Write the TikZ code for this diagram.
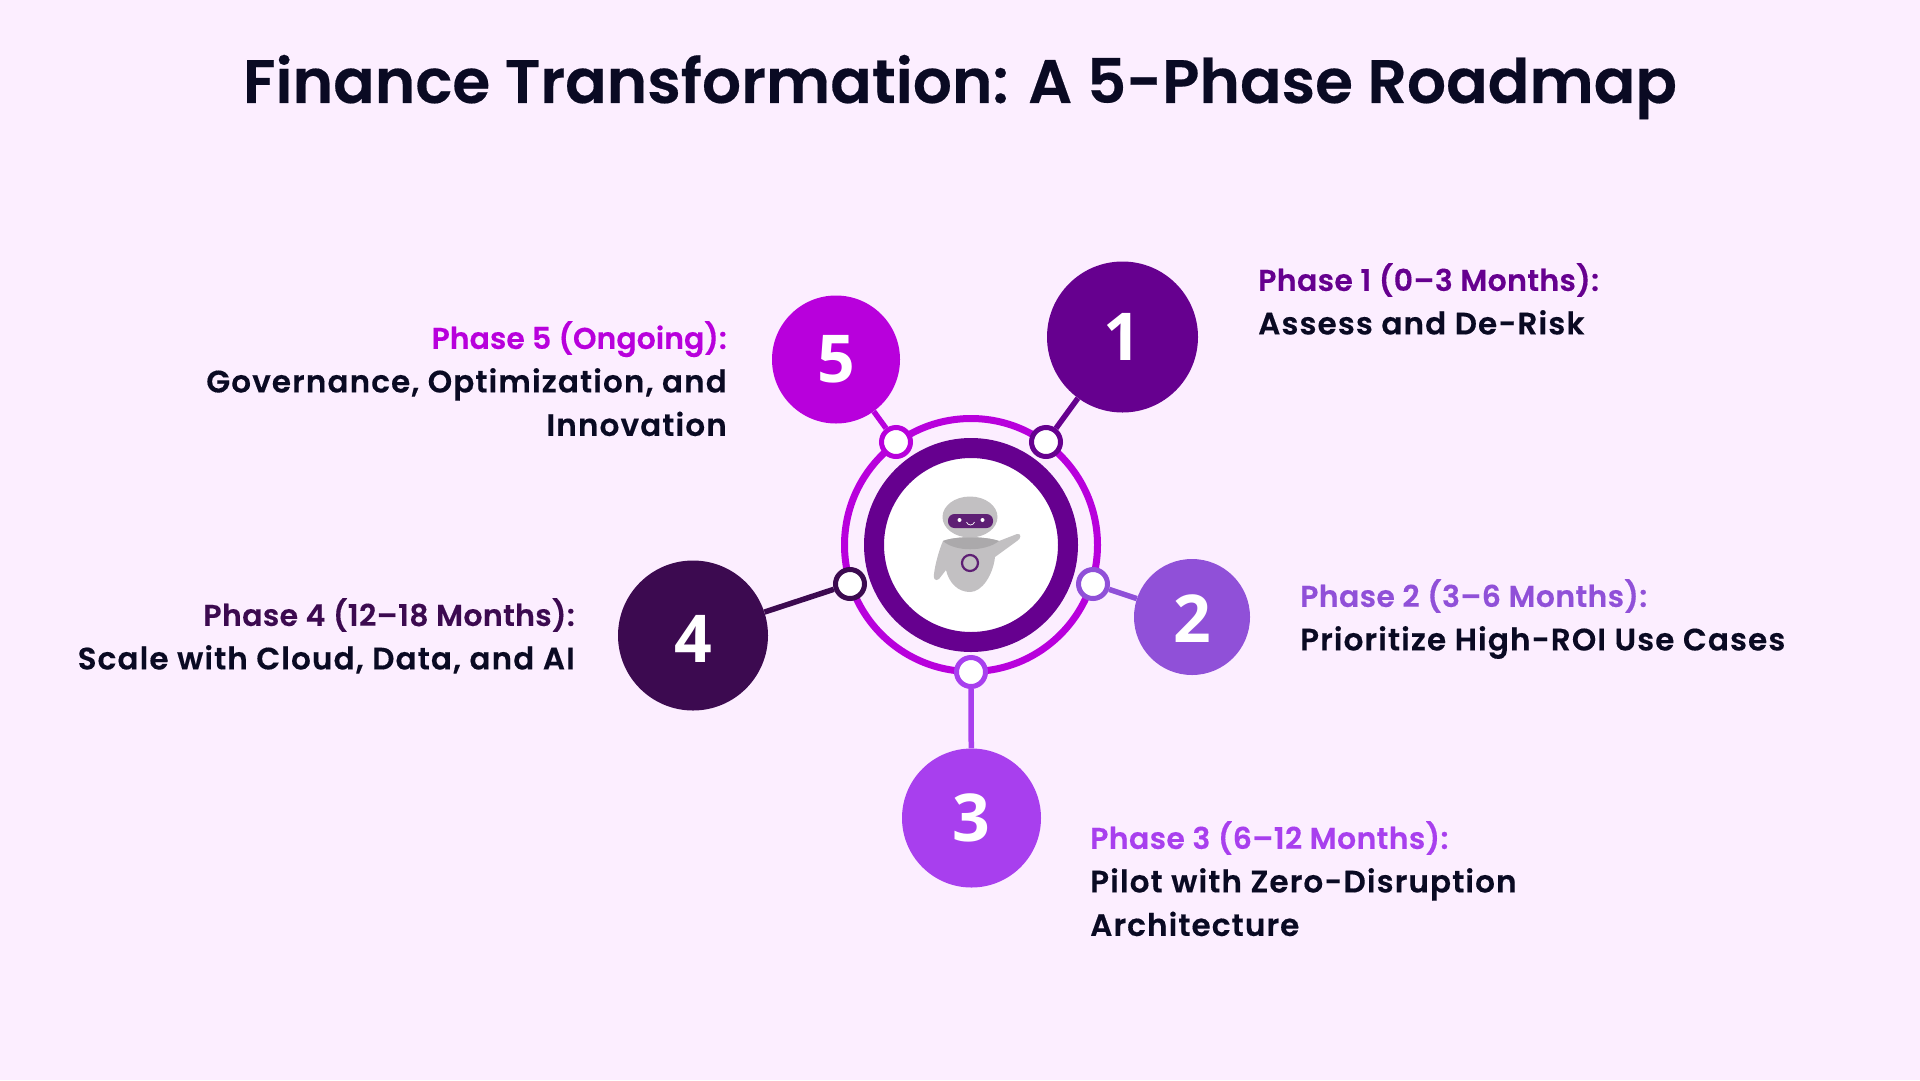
\documentclass[tikz,border=0pt]{standalone}
\usepackage{fontspec}
\setmainfont{Poppins SemiBold}[FakeBold=0.3]
\newfontfamily\numfont{Open Sans}
\newfontfamily\headfont{Poppins SemiBold}[LetterSpace=1.2,FakeBold=0.3]
\newfontfamily\bodyfont{Poppins SemiBold}[LetterSpace=3.7,FakeBold=0.3]
\usepackage{xcolor}
\definecolor{bgpink}{HTML}{FCEEFF}
\definecolor{inkdark}{HTML}{0A0A23}
\definecolor{phaseone}{HTML}{66008F}
\definecolor{phasetwo}{HTML}{9050D8}
\definecolor{phasethree}{HTML}{A83FEE}
\definecolor{phasefour}{HTML}{3C0A50}
\definecolor{phasefive}{HTML}{B800DC}
\definecolor{robotgrey}{HTML}{C2C0C2}
\definecolor{robotshade}{HTML}{ABA9AB}
\definecolor{robotvisor}{HTML}{5E1F74}
\newcommand{\headline}[2]{\textcolor{#1}{\headfont\fontsize{30}{43.5}\selectfont #2}}
\tikzstyle{phase} = [circle, inner sep=0pt, text=white, font=\numfont\bfseries\fontsize{66}{66}\selectfont]
\tikzstyle{port} = [circle, draw, fill=white, line width=5pt, minimum size=29pt, inner sep=0pt]
\tikzstyle{link} = [line width=5.5pt]
\tikzstyle{lefttext} = [inner sep=0pt, align=left, anchor=north west, font=\bodyfont\fontsize{31}{43.5}\selectfont, text=inkdark]
\tikzstyle{righttext} = [inner sep=0pt, align=right, anchor=north east, font=\bodyfont\fontsize{31}{43.5}\selectfont, text=inkdark]

\begin{document}
\begin{tikzpicture}[x=1pt,y=-1pt]
  \useasboundingbox (0,0) rectangle (1920,1080);
  \fill[bgpink] (0,0) rectangle (1920,1080);

  \node (title) [inner sep=0pt, text=inkdark, font=\fontsize{61.4}{61.4}\selectfont] at (960,87) {Finance Transformation: A 5-Phase Roadmap};

  \node (ring) [circle, draw=phasefive, line width=7pt, minimum size=253pt, inner sep=0pt] at (971,545) {};
  \node (hub) [circle, draw=phaseone, fill=white, line width=20pt, minimum size=194pt, inner sep=0pt] at (971,545) {};

  \node[phase, fill=phaseone, minimum size=151pt] (P1) at (1122.5,337) {1};
  \node[phase, fill=phasetwo, minimum size=116pt] (P2) at (1192,617) {\raisebox{-2pt}[\height][\depth]{2}};
  \node[phase, fill=phasethree, minimum size=139pt] (P3) at (971.5,818) {3};
  \node[phase, fill=phasefour, minimum size=150pt] (P4) at (693,635.5) {\raisebox{-3.5pt}[\height][\depth]{4}};
  \node[phase, fill=phasefive, minimum size=128pt] (P5) at (836,359.5) {5};

  \node[port, draw=phaseone] (D1) at (1046,442) {};
  \node[port, draw=phasetwo] (D2) at (1093,584) {};
  \node[port, draw=phasethree] (D3) at (971,672) {};
  \node[port, draw=phasefour] (D4) at (850,584) {};
  \node[port, draw=phasefive] (D5) at (896,442) {};

  \path[link, draw=phaseone] (P1) edge node {} (D1);
  \path[link, draw=phasetwo] (P2) edge node {} (D2);
  \path[link, draw=phasethree] (P3) edge node {} (D3);
  \path[link, draw=phasefour] (P4) edge node {} (D4);
  \path[link, draw=phasefive] (P5) edge node {} (D5);

  \node[lefttext] (T1) at (1258,263) {\headline{phaseone}{Phase 1 (0–3 Months):}\\Assess and De-Risk};
  \node[lefttext] (T2) at (1300,579) {\headline{phasetwo}{Phase 2 (3–6 Months):}\\Prioritize High-ROI Use Cases};
  \node[lefttext] (T3) at (1090,821) {\headline{phasethree}{Phase 3 (6–12 Months):}\\Pilot with Zero-Disruption\\Architecture};
  \node[righttext] (T4) at (575,598) {\headline{phasefour}{Phase 4 (12–18 Months):}\\Scale with Cloud, Data, and AI};
  \node[righttext] (T5) at (727,321) {\textcolor{phasefive}{\rmfamily\fontsize{30}{43.5}\selectfont Phase 5 (Ongoing):}\\Governance, Optimization, and\\Innovation};

  \fill[robotgrey] (970,517) ellipse [x radius=27.5pt, y radius=20.5pt];
  \fill[robotvisor, rounded corners=6.5pt] (948,514) rectangle (993,528);
  \fill[white] (959.5,520) circle (2pt) (982.5,520) circle (2pt);
  \draw[white, line width=.7pt] (966.5,522) .. controls (968,526) and (973,526) .. (974.5,522);
  \fill[robotgrey] (943,541) .. controls (955,536) and (985,536) .. (999,541)
    -- (1017,534) .. controls (1022,533) and (1021,539) .. (1017,541)
    -- (995,557) .. controls (993,575) and (982,592) .. (970,592)
    .. controls (958,592) and (949,583) .. (946,570)
    -- (939,579) .. controls (935,582) and (933,578) .. (934,574)
    .. controls (935,565) and (939,550) .. (943,541) -- cycle;
  \fill[robotshade] (943,541) .. controls (955,536) and (985,536) .. (999,541)
    .. controls (985,552) and (955,552) .. (943,541) -- cycle;
  \draw[robotvisor, line width=2.2pt] (970,563) circle (8pt);
\end{tikzpicture}
\end{document}
